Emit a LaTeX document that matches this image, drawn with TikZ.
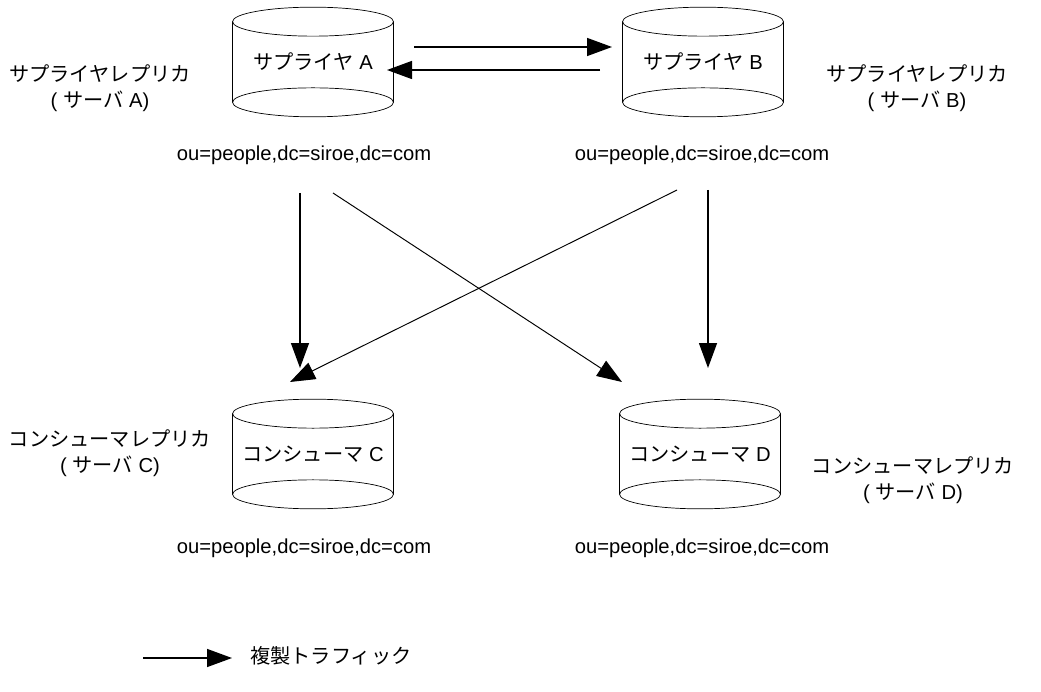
\documentclass[tikz,border=0pt]{standalone}
\usepackage{fontspec}
\setmainfont{Liberation Sans}
\newfontfamily\jp{Noto Sans CJK JP}
\usetikzlibrary{arrows.meta}
\tikzset{
  store/.style={minimum width=3.22cm, minimum height=1.6cm, inner sep=0pt},
  flow/.style={line width=0.8pt, -{Triangle[length=0.5cm, width=0.36cm]}},
  thin flow/.style={flow, line width=0.55pt},
  every node/.style={font=\fontsize{11.5}{15}\selectfont},
  role/.style={align=center}
}
% replica cylinder: name, position, label
\newcommand\replica[3]{%
  \node[store] (#1) at (#2) {#3};
  \draw (#1.north west) -- (#1.south west) (#1.north east) -- (#1.south east);
  \draw (#1.north) ellipse [x radius=1.61cm, y radius=0.29cm];
  \draw (#1.south) ellipse [x radius=1.61cm, y radius=0.29cm];
}
\begin{document}
\begin{tikzpicture}[x=0.02cm, y=-0.02cm]
\useasboundingbox (0,0) rectangle (1041,692);
\replica{supA}{313,62}{{\jp サプライヤ} A}
\replica{supB}{703,62}{{\jp サプライヤ} B}
\replica{conC}{313,454}{{\jp コンシューマ} C}
\replica{conD}{700,454}{{\jp コンシューマ} D}
\node[role] (lblA) at (100,88) {{\jp サプライヤレプリカ}\\( {\jp サーバ} A)};
\node[role] (lblB) at (917,88) {{\jp サプライヤレプリカ}\\( {\jp サーバ} B)};
\node[role] (lblC) at (110,453) {{\jp コンシューマレプリカ}\\( {\jp サーバ} C)};
\node[role] (lblD) at (913,480) {{\jp コンシューマレプリカ}\\( {\jp サーバ} D)};
\node (dnA) at (304,155) {ou=people,dc=siroe,dc=com};
\node (dnB) at (702,155) {ou=people,dc=siroe,dc=com};
\node (dnC) at (304,548) {ou=people,dc=siroe,dc=com};
\node (dnD) at (702,548) {ou=people,dc=siroe,dc=com};
\coordinate (a1) at (414,47);  \coordinate (b1) at (612,47);
\coordinate (b2) at (600,70);  \coordinate (a2) at (387,70);
\coordinate (a3) at (300,193); \coordinate (c3) at (300,368);
\coordinate (a4) at (333,193); \coordinate (d4) at (622,382);
\coordinate (b5) at (677,190); \coordinate (c5) at (290,382);
\coordinate (b6) at (708,190); \coordinate (d6) at (708,368);
\draw[flow] (a1) -- (b1);
\draw[flow] (b2) -- (a2);
\draw[flow] (a3) -- (c3);
\draw[thin flow] (a4) -- (d4);
\draw[thin flow] (b5) -- (c5);
\draw[flow] (b6) -- (d6);
% legend
\coordinate (k1) at (143,658); \coordinate (k2) at (232,658);
\draw[flow] (k1) -- (k2);
\node[anchor=west] (key) at (244,656) {\jp 複製トラフィック};
\end{tikzpicture}
\end{document}
